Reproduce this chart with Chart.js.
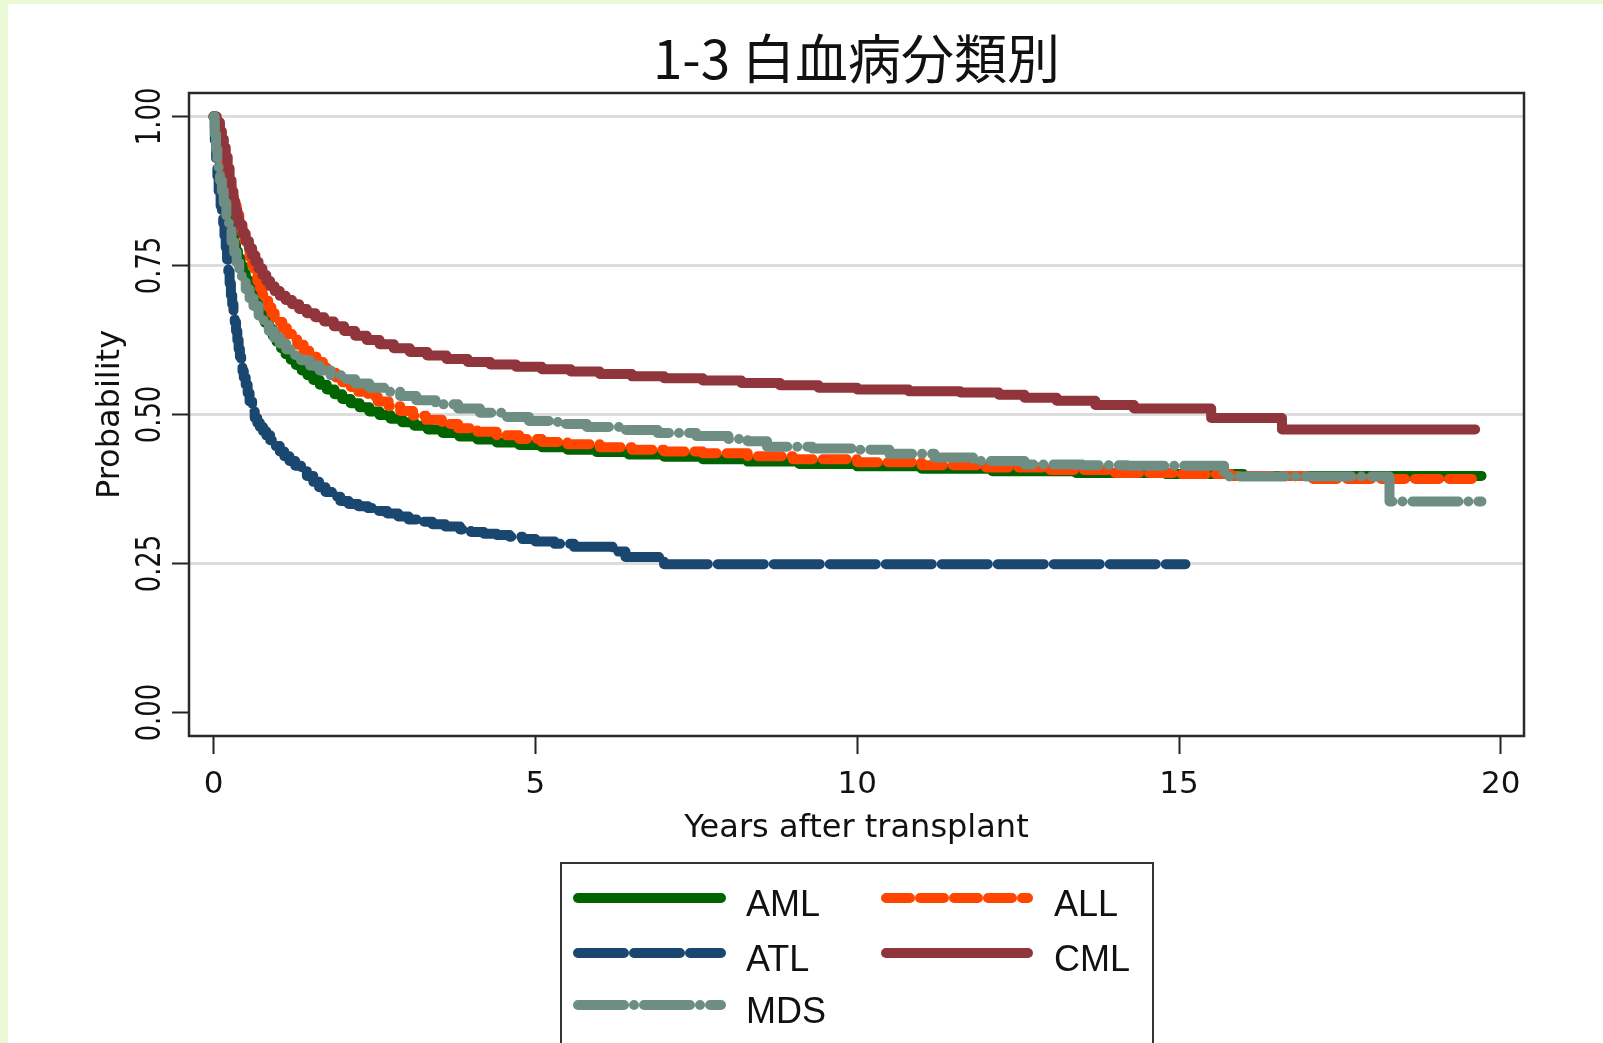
<!DOCTYPE html>
<html>
<head>
<meta charset="utf-8">
<script src="https://cdn.jsdelivr.net/npm/chart.js@4.4.1/dist/chart.umd.min.js"></script>
<style>
html,body{margin:0;padding:0;background:#fff;}
#wrap{position:relative;width:1603px;height:1043px;overflow:hidden;
background:linear-gradient(to right,#eaf8d3 0,#eaf8d3 8px,rgba(255,255,255,0) 8px),linear-gradient(to bottom,#eaf8d3 0,#eaf8d3 4px,#ffffff 4px);}
canvas{position:absolute;left:0;top:0;}
</style>
</head>
<body>
<div id="wrap"><canvas id="c" width="1603" height="1043"></canvas></div>
<script>
// ---- data (Kaplan-Meier survival estimates) ----
const titleText = '1-3 白血病分類別';
const xTitle = 'Years after transplant';
const yTitle = 'Probability';
const categories = ['AML', 'ALL', 'ATL', 'CML', 'MDS'];

const amlT = [0,0.02,0.04,0.06,0.08,0.1,0.12,0.14,0.16,0.18,0.2,0.23,0.26,0.29,0.32,0.35,0.38,0.42,0.46,0.5,0.55,0.6,0.65,0.7,0.75,0.8,0.86,0.92,0.98,1.05,1.12,1.2,1.28,1.37,1.46,1.55,1.65,1.76,1.88,2.0,2.13,2.27,2.42,2.58,2.75,2.93,3.12,3.33,3.56,3.82,4.1,4.4,4.75,5.1,5.5,5.95,6.45,7.0,7.6,8.3,9.1,10.0,11.0,12.1,13.4,14.8,16.0,19.7];
const amlS = [1,0.98,0.96,0.945,0.93,0.915,0.9,0.89,0.875,0.862,0.85,0.833,0.815,0.8,0.787,0.774,0.762,0.749,0.737,0.725,0.711,0.698,0.686,0.675,0.664,0.654,0.643,0.632,0.622,0.611,0.601,0.592,0.583,0.574,0.566,0.558,0.55,0.542,0.534,0.526,0.519,0.512,0.505,0.499,0.493,0.487,0.481,0.475,0.469,0.463,0.458,0.453,0.449,0.445,0.441,0.437,0.433,0.429,0.425,0.421,0.417,0.413,0.409,0.405,0.402,0.4,0.397,0.397];

const allT = [0,0.03,0.06,0.1,0.13,0.16,0.2,0.24,0.28,0.32,0.36,0.4,0.44,0.48,0.52,0.56,0.6,0.64,0.68,0.72,0.76,0.8,0.85,0.9,0.95,1.0,1.07,1.14,1.22,1.3,1.4,1.5,1.6,1.7,1.8,1.9,2.0,2.12,2.25,2.4,2.55,2.72,2.9,3.1,3.3,3.55,3.8,4.1,4.4,4.75,5.1,5.5,6.0,6.5,7.0,7.6,8.3,9.0,10.0,11.0,12.0,13.0,14.0,15.0,15.8,17.0,19.55];
const allS = [1,0.985,0.97,0.95,0.935,0.92,0.9,0.882,0.865,0.85,0.835,0.82,0.806,0.792,0.778,0.764,0.75,0.737,0.724,0.712,0.701,0.691,0.68,0.67,0.662,0.655,0.645,0.635,0.626,0.617,0.607,0.597,0.588,0.579,0.57,0.562,0.554,0.546,0.538,0.53,0.522,0.514,0.506,0.498,0.491,0.484,0.477,0.471,0.465,0.459,0.454,0.45,0.445,0.441,0.438,0.435,0.43,0.425,0.42,0.415,0.411,0.407,0.402,0.4,0.397,0.392,0.392];

const atlT = [0,0.02,0.04,0.06,0.08,0.11,0.13,0.15,0.17,0.19,0.21,0.23,0.25,0.27,0.29,0.31,0.33,0.35,0.37,0.39,0.41,0.43,0.45,0.47,0.5,0.53,0.56,0.6,0.64,0.68,0.72,0.77,0.82,0.88,0.95,1.03,1.1,1.18,1.27,1.36,1.45,1.55,1.64,1.74,1.85,1.97,2.1,2.25,2.4,2.55,2.7,2.87,3.03,3.2,3.4,3.6,3.83,4.0,4.2,4.4,4.6,4.8,5.0,5.3,5.6,6.2,6.4,7.0,15.1];
const atlS = [1,0.96,0.93,0.9,0.875,0.85,0.835,0.821,0.8,0.78,0.76,0.74,0.72,0.7,0.685,0.67,0.655,0.64,0.625,0.61,0.597,0.585,0.573,0.562,0.55,0.536,0.522,0.505,0.494,0.486,0.479,0.472,0.465,0.457,0.447,0.438,0.43,0.422,0.414,0.405,0.397,0.387,0.378,0.37,0.362,0.355,0.35,0.346,0.343,0.338,0.334,0.329,0.324,0.32,0.316,0.312,0.307,0.303,0.3,0.298,0.295,0.291,0.287,0.283,0.278,0.27,0.261,0.249,0.249];

const cmlT = [0,0.05,0.1,0.13,0.16,0.19,0.22,0.25,0.28,0.31,0.34,0.37,0.4,0.45,0.5,0.55,0.6,0.65,0.7,0.76,0.82,0.88,0.95,1.03,1.12,1.22,1.33,1.45,1.58,1.72,1.87,2.03,2.2,2.38,2.58,2.8,3.05,3.32,3.62,3.95,4.3,4.7,5.1,5.55,6.0,6.5,7.0,7.6,8.2,8.8,9.4,10.0,10.8,11.6,12.2,12.6,13.1,13.7,14.3,15.5,16.6,19.6];
const cmlS = [1,0.99,0.975,0.962,0.948,0.932,0.913,0.893,0.874,0.857,0.842,0.829,0.818,0.803,0.791,0.779,0.767,0.756,0.745,0.734,0.724,0.715,0.707,0.699,0.692,0.685,0.677,0.67,0.663,0.656,0.648,0.64,0.632,0.625,0.618,0.611,0.605,0.599,0.593,0.588,0.584,0.58,0.576,0.572,0.568,0.564,0.561,0.557,0.553,0.549,0.545,0.542,0.539,0.537,0.533,0.528,0.523,0.516,0.51,0.494,0.475,0.475];

const mdsT = [0,0.02,0.04,0.06,0.08,0.1,0.13,0.16,0.2,0.24,0.28,0.32,0.36,0.4,0.44,0.5,0.56,0.62,0.7,0.78,0.86,0.94,1.03,1.13,1.24,1.36,1.5,1.65,1.82,2.0,2.2,2.42,2.65,2.9,3.15,3.45,3.8,4.14,4.5,4.9,5.35,5.8,6.3,6.9,7.5,8.0,8.3,8.6,9.3,10.0,10.5,11.2,11.8,12.6,13.5,14.2,15.7,18.27,19.7];
const mdsS = [1,0.97,0.945,0.925,0.908,0.893,0.875,0.855,0.83,0.81,0.79,0.772,0.755,0.74,0.727,0.71,0.695,0.682,0.666,0.652,0.64,0.629,0.619,0.609,0.6,0.591,0.582,0.574,0.566,0.559,0.552,0.545,0.538,0.531,0.524,0.517,0.51,0.503,0.496,0.489,0.484,0.479,0.474,0.469,0.464,0.459,0.455,0.446,0.443,0.441,0.434,0.428,0.422,0.416,0.415,0.414,0.396,0.354,0.354];

const xTicks = [0, 5, 10, 15, 20];
const yTicks = [0, 0.25, 0.5, 0.75, 1];
const yTickLabels = ['0.00', '0.25', '0.50', '0.75', '1.00'];

// ---- styling ----
const seriesStyle = {
  AML: {color:'#006400', dash:[], order:5},
  ALL: {color:'#ff4500', dash:[24,10], order:4},
  ATL: {color:'#1a476f', dash:[46,10], order:3},
  CML: {color:'#90353b', dash:[], order:2},
  MDS: {color:'#6e8e84', dash:[46,10,0,10], order:1}
};
const seriesData = {AML:[amlT,amlS], ALL:[allT,allS], ATL:[atlT,atlS], CML:[cmlT,cmlS], MDS:[mdsT,mdsS]};

const datasets = categories.map(name => {
  const [t, s] = seriesData[name];
  const st = seriesStyle[name];
  return {
    label: name,
    data: t.map((v, i) => ({x: v, y: s[i]})),
    borderColor: st.color,
    backgroundColor: st.color,
    borderWidth: 10,
    borderDash: st.dash,
    borderCapStyle: 'round',
    borderJoinStyle: 'round',
    stepped: true,
    pointRadius: 0,
    pointHoverRadius: 0,
    fill: false,
    order: st.order
  };
});

// legend layout: [name, column, row]
const legendLayout = [['AML',0,0],['ALL',1,0],['ATL',0,1],['CML',1,1],['MDS',0,2]];

const decor = {
  id: 'decor',
  afterDraw(chart) {
    const {ctx, chartArea: a, scales: {y}} = chart;
    ctx.save();
    // plot frame
    ctx.strokeStyle = '#2a2a2a';
    ctx.lineWidth = 2.5;
    ctx.strokeRect(a.left, a.top, a.right - a.left, a.bottom - a.top);

    ctx.fillStyle = '#111';
    // title
    ctx.font = '53px "Noto Sans CJK JP"';
    ctx.textAlign = 'center';
    ctx.textBaseline = 'alphabetic';
    ctx.fillText(titleText, (a.left + a.right) / 2, 79);

    // y tick labels (rotated)
    yTicks.forEach((v, i) => {
      ctx.save();
      ctx.translate(160, y.getPixelForValue(v));
      ctx.rotate(-Math.PI / 2);
      ctx.scale(0.76, 1);
      ctx.font = '34px "DejaVu Sans"';
      ctx.textAlign = 'center';
      ctx.textBaseline = 'alphabetic';
      ctx.fillText(yTickLabels[i], 0, 0);
      ctx.restore();
    });

    // y title
    ctx.save();
    ctx.translate(119, (a.top + a.bottom) / 2);
    ctx.rotate(-Math.PI / 2);
    ctx.font = '32px "DejaVu Sans"';
    ctx.textAlign = 'center';
    ctx.fillText(yTitle, 0, 0);
    ctx.restore();

    // x title
    ctx.font = '32px "DejaVu Sans"';
    ctx.textAlign = 'center';
    ctx.fillText(xTitle, (a.left + a.right) / 2, 837);

    // legend box
    ctx.strokeStyle = '#333';
    ctx.lineWidth = 2;
    ctx.strokeRect(561, 863, 1153 - 561, 1043 - 863 + 20);
    const colLine = [[578, 721], [886, 1028]];
    const colText = [746, 1054];
    const rowY = [898, 953, 1005];
    legendLayout.forEach(([name, c, r]) => {
      const ds = chart.data.datasets.find(d => d.label === name);
      ctx.save();
      ctx.strokeStyle = ds.borderColor;
      ctx.lineWidth = 10;
      ctx.lineCap = 'round';
      ctx.setLineDash(ds.borderDash);
      ctx.beginPath();
      ctx.moveTo(colLine[c][0], rowY[r]);
      ctx.lineTo(colLine[c][1], rowY[r]);
      ctx.stroke();
      ctx.restore();
      ctx.font = '36px "Liberation Sans"';
      ctx.textAlign = 'left';
      ctx.textBaseline = 'alphabetic';
      ctx.fillStyle = '#111';
      ctx.fillText(name, colText[c], rowY[r] + 18);
    });
    ctx.restore();
  }
};

new Chart(document.getElementById('c'), {
  type: 'line',
  data: {datasets},
  options: {
    responsive: false,
    animation: false,
    devicePixelRatio: 1,
    events: [],
    layout: {padding: {left: 0, right: 1603 - 1524, top: 93, bottom: 0}},
    plugins: {legend: {display: false}, tooltip: {enabled: false}, title: {display: false}},
    scales: {
      x: {
        type: 'linear',
        min: -0.381,
        max: 20.36,
        afterBuildTicks: s => { s.ticks = xTicks.map(v => ({value: v})); },
        afterFit: s => { s.height = 1043 - 736; },
        border: {display: false},
        grid: {drawOnChartArea: false, drawTicks: true, tickLength: 18, tickColor: '#222', tickWidth: 2},
        ticks: {font: {family: 'DejaVu Sans', size: 31}, color: '#111', padding: 12, maxRotation: 0, autoSkip: false}
      },
      y: {
        type: 'linear',
        min: -0.0393,
        max: 1.0393,
        afterBuildTicks: s => { s.ticks = yTicks.map(v => ({value: v})); },
        afterFit: s => { s.width = 189; },
        border: {display: false},
        grid: {
          color: c => (c.tick && c.tick.value === 0) ? 'rgba(0,0,0,0)' : '#dddddd',
          lineWidth: 3,
          drawTicks: true,
          tickLength: 17,
          tickColor: '#222',
          tickWidth: 2
        },
        ticks: {display: false}
      }
    }
  },
  plugins: [decor]
});
</script>
</body>
</html>
